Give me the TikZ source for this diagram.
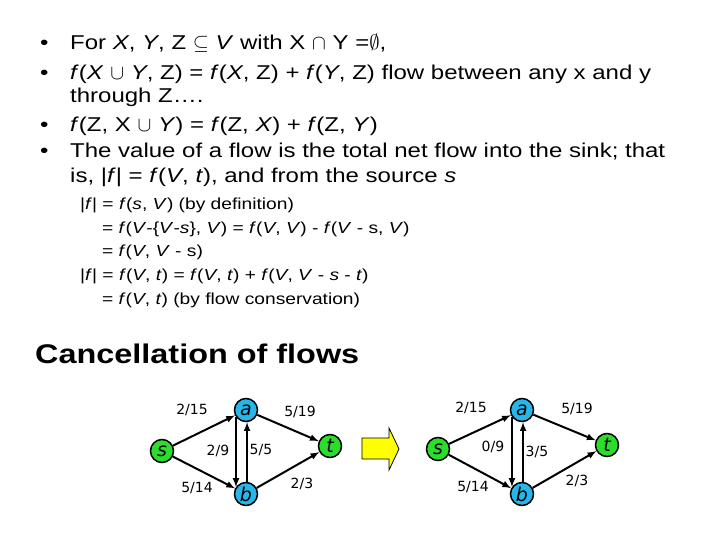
\documentclass[tikz,border=0pt]{standalone}
\usepackage{fontspec}
\setmainfont{Liberation Sans}[FakeStretch=1.2]
\newfontfamily\graphfont{DejaVu Sans}
\definecolor{nodeblue}{RGB}{38,182,234}
\definecolor{nodegreen}{RGB}{44,222,44}
\definecolor{arrowyellow}{RGB}{255,255,0}
\tikzset{
  bodytext/.style={anchor=base west,inner sep=0pt,font=\fontsize{20bp}{24bp}\selectfont},
  formtext/.style={anchor=base west,inner sep=0pt,font=\fontsize{16bp}{19bp}\selectfont},
  vertex/.style={circle,draw,line width=1.5bp,minimum size=23bp,inner sep=0pt,font=\graphfont\fontsize{19bp}{19bp}\selectfont\itshape},
  endvertex/.style={vertex,fill=nodegreen},
  midvertex/.style={vertex,fill=nodeblue},
  flowlabel/.style={font=\graphfont\fontsize{14bp}{14bp}\selectfont},
  edge/.style={->,>=latex,line width=2bp}
}
\begin{document}
\begin{tikzpicture}[x=1bp,y=-1bp]
\useasboundingbox (0,0) rectangle (720,540);
% bullets
\foreach \y in {50,80,132,158} \node[bodytext] at (40,\y) {•};
\node[bodytext] (l1) at (70,50) {For \textit{X}, \textit{Y}, Z $\subseteq$ \textit{V} with X $\cap$ Y =$\emptyset$,};
\node[bodytext] (l2) at (70,80) {\textit{f}(\textit{X} $\cup$ \textit{Y}, Z) = \textit{f}(\textit{X}, Z) + \textit{f}(\textit{Y}, Z) flow between any x and y};
\node[bodytext] (l3) at (70,103) {through Z….};
\node[bodytext] (l4) at (70,132) {\textit{f}(Z, X $\cup$ \textit{Y}) = \textit{f}(Z, \textit{X}) + \textit{f}(Z, \textit{Y})};
\node[bodytext] (l5) at (70,158) {The value of a flow is the total net flow into the sink; that};
\node[bodytext] (l6) at (70,183) {is, |\textit{f}| = \textit{f}(\textit{V}, \textit{t}), and from the source \textit{s}};
% value of the flow
\node[formtext] (f1) at (80,210) {|\textit{f}| = \textit{f}(\textit{s}, \textit{V}) (by definition)};
\node[formtext] (f2) at (102,234) {= \textit{f}(\textit{V}-\{\textit{V}-\textit{s}\}, \textit{V}) = \textit{f}(\textit{V}, \textit{V}) - \textit{f}(\textit{V} - s, \textit{V})};
\node[formtext] (f3) at (102,257) {= \textit{f}(\textit{V}, \textit{V} - s)};
\node[formtext] (f4) at (80,281) {|\textit{f}| = \textit{f}(\textit{V}, \textit{t}) = \textit{f}(\textit{V}, \textit{t}) + \textit{f}(\textit{V}, \textit{V} - \textit{s} - \textit{t})};
\node[formtext] (f5) at (102,304) {= \textit{f}(\textit{V}, \textit{t}) (by flow conservation)};
\node[anchor=base west,inner sep=0pt,font=\fontsize{27bp}{31bp}\selectfont\bfseries] (title) at (35,363) {Cancellation of flows};
% left network
\node[endvertex] (s1) at (162,451) {s};
\node[midvertex] (a1) at (246,410) {a};
\node[midvertex] (b1) at (246,494) {b};
\node[endvertex] (t1) at (330,446) {t};
\draw[edge] (s1) -- (a1);
\draw[edge] (s1) -- (b1);
\draw[edge] (a1) -- (t1);
\draw[edge] (b1) -- (t1);
\draw[edge] (a1.215) -- (b1.145);
\draw[edge] (b1.85) -- (a1.275);
\node[flowlabel] at (192,410) {2/15};
\node[flowlabel] at (300,412) {5/19};
\node[flowlabel] at (218,451) {2/9};
\node[flowlabel] at (261,450) {5/5};
\node[flowlabel] at (197,488) {5/14};
\node[flowlabel] at (302,484) {2/3};
% yellow arrow
\draw[fill=arrowyellow,line width=0.8bp] (362,438) -- (389,438) -- (389,428) -- (399,449) -- (389,470) -- (389,459) -- (362,459) -- cycle;
% right network
\node[endvertex] (s2) at (438,449) {s};
\node[midvertex] (a2) at (522,410) {a};
\node[midvertex] (b2) at (522,494) {b};
\node[endvertex] (t2) at (607,445) {t};
\draw[edge] (s2) -- (a2);
\draw[edge] (s2) -- (b2);
\draw[edge] (a2) -- (t2);
\draw[edge] (b2) -- (t2);
\draw[edge] (a2.215) -- (b2.145);
\draw[edge] (b2.85) -- (a2.275);
\node[flowlabel] at (471,408) {2/15};
\node[flowlabel] at (577,409) {5/19};
\node[flowlabel] at (493,447) {0/9};
\node[flowlabel] at (537,452) {3/5};
\node[flowlabel] at (473,487) {5/14};
\node[flowlabel] at (577,481) {2/3};
\end{tikzpicture}
\end{document}
